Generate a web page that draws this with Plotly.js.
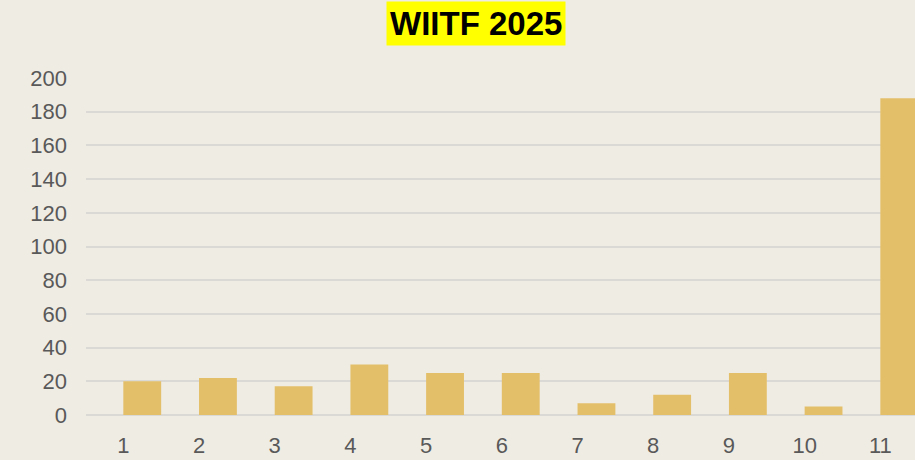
<!DOCTYPE html>
<html>
<head>
<meta charset="utf-8">
<script src="https://cdn.plot.ly/plotly-3.0.1.min.js"></script>
<style>
html,body{margin:0;padding:0;background:#EFECE4;}
#chart{width:915px;height:460px;}
</style>
</head>
<body>
<div id="chart"></div>
<script>
const categories = [1, 2, 3, 4, 5, 6, 7, 8, 9, 10, 11];
const values = [20, 22, 17, 30, 25, 25, 7, 12, 25, 5, 188];
const yTicks = [0, 20, 40, 60, 80, 100, 120, 140, 160, 180, 200];
const titleText = "WIITF 2025";

const trace = {
  type: 'bar',
  x: categories,
  y: values,
  width: 0.5,
  offset: 0,
  marker: {color: '#E4BF69', line: {width: 0}},
  hoverinfo: 'x+y'
};

const layout = {
  width: 915,
  height: 460,
  paper_bgcolor: '#EFECE4',
  plot_bgcolor: '#EFECE4',
  margin: {l: 86, r: 0, t: 78, b: 44.5},
  showlegend: false,
  font: {family: 'Liberation Sans, Arial, sans-serif', color: '#595959'},
  xaxis: {
    range: [0.507, 11.458],
    tickmode: 'array',
    tickvals: categories,
    ticktext: categories.map(String),
    showgrid: false,
    zeroline: false,
    showline: false,
    ticks: '',
    ticklabelstandoff: 15,
    tickfont: {size: 22, color: '#595959'},
    fixedrange: true
  },
  yaxis: {
    range: [0, 200],
    tickmode: 'array',
    tickvals: yTicks,
    ticktext: yTicks.map(String),
    showgrid: true,
    gridcolor: '#DBD9D5',
    gridwidth: 2,
    zeroline: true,
    zerolinecolor: '#DBD9D5',
    zerolinewidth: 2,
    showline: false,
    ticks: '',
    ticklabelstandoff: 18,
    tickfont: {size: 22, color: '#595959'},
    fixedrange: true
  },
  annotations: [{
    text: '<b>' + titleText + '</b>',
    xref: 'paper', yref: 'paper',
    x: 0.471, y: 1.162,
    xanchor: 'center', yanchor: 'middle',
    showarrow: false,
    bgcolor: '#FFFF00',
    borderpad: 3,
    font: {family: 'Liberation Sans, Arial, sans-serif', size: 33, color: '#000000'}
  }]
};

Plotly.newPlot('chart', [trace], layout, {displayModeBar: false, staticPlot: true});
</script>
</body>
</html>
